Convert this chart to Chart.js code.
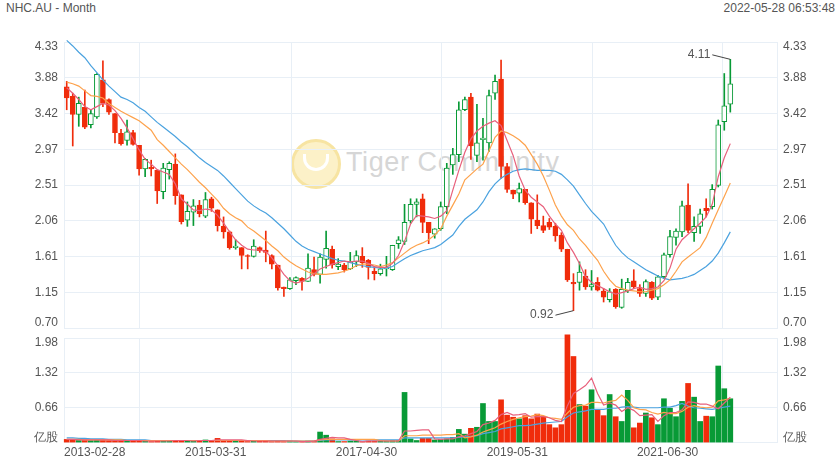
<!DOCTYPE html>
<html>
<head>
<meta charset="utf-8">
<script src="https://cdn.jsdelivr.net/npm/chart.js@4.4.1/dist/chart.umd.min.js"></script>
<style>
  body { margin: 0; background: #fff; width: 840px; height: 470px; position: relative; overflow: hidden;
         font-family: "Liberation Sans", Arial, sans-serif; }
  #title { position: absolute; left: 6px; top: 1px; font-size: 12px; color: #555; }
  #stamp { position: absolute; right: 5px; top: 1px; font-size: 12px; color: #555; }
  #logo { position: absolute; left: 291px; top: 139px; width: 44px; height: 44px; border-radius: 50%;
          background: #fcf1c8; border: 3px solid #f7e4a2; }
  #logo div { position: absolute; left: 9px; top: 12px; width: 20px; height: 14px;
              border: 3px solid #fff; border-top: none; border-radius: 0 0 14px 14px; }
  #mark { position: absolute; left: 346px; top: 147px; font-size: 27px; color: #d6d6d6; letter-spacing: 0.6px; }
  canvas { position: absolute; left: 0; }
  #price { top: 0; }
  #vol { top: 320px; }
</style>
</head>
<body>
<div id="title">NHC.AU - Month</div>
<div id="stamp">2022-05-28 06:53:48</div>
<div id="logo"><div></div></div>
<div id="mark">Tiger Community</div>
<canvas id="price" width="840" height="350"></canvas>
<canvas id="vol" width="840" height="150"></canvas>
<script>
// monthly candles, index 0 = first month on the chart
const opens = [3.76,3.64,3.41,3.50,3.28,3.38,3.85,3.60,3.42,3.17,
  3.08,3.18,3.02,2.72,2.74,2.70,2.43,2.71,2.78,2.39,
  2.07,2.17,2.26,2.12,2.34,2.20,1.99,1.92,1.72,1.72,
  1.62,1.61,1.72,1.69,1.62,1.50,1.22,1.20,1.30,1.33,
  1.29,1.44,1.38,1.57,1.70,1.48,1.50,1.45,1.54,1.61,
  1.56,1.42,1.39,1.45,1.44,1.77,1.80,2.06,2.27,2.34,
  2.04,1.89,1.96,2.24,2.77,2.90,3.47,3.63,2.89,3.09,
  3.05,3.68,3.86,2.75,2.45,2.41,2.46,2.29,2.07,2.00,
  2.04,1.99,1.88,1.70,1.28,1.28,1.36,1.22,1.28,1.17,
  1.06,1.19,0.96,1.17,1.30,1.20,1.14,1.28,1.09,1.35,
  1.63,1.85,1.92,2.26,1.91,1.99,2.22,2.24,2.51,3.32,
  3.54];
const highs = [3.83,3.68,3.63,3.72,3.47,3.93,4.09,3.61,3.42,3.22,
  3.34,3.21,3.02,2.85,2.83,2.70,2.79,2.81,2.91,2.39,
  2.30,2.33,2.32,2.42,2.36,2.20,2.11,1.93,1.82,1.72,
  1.63,1.82,1.73,1.93,1.63,1.50,1.22,1.34,1.35,1.34,
  1.64,1.60,1.64,1.93,1.74,1.58,1.52,1.66,1.68,1.72,
  1.57,1.48,1.51,1.61,1.75,1.86,2.27,2.34,2.34,2.40,
  2.04,1.96,2.30,2.79,2.98,3.57,3.63,3.68,3.54,3.36,
  3.72,3.91,4.10,2.79,2.45,2.54,2.46,2.29,2.39,2.12,
  2.09,2.03,1.91,1.70,1.39,1.54,1.44,1.43,1.34,1.20,
  1.20,1.20,1.32,1.33,1.44,1.25,1.31,1.29,1.37,1.65,
  1.94,1.96,2.31,2.53,2.11,2.21,2.34,2.52,3.34,3.93,
  4.11];
const lows = [3.47,3.01,3.26,3.23,3.24,3.36,3.51,3.41,3.05,3.02,
  3.02,3.02,2.64,2.62,2.63,2.28,2.34,2.59,2.27,2.02,
  1.99,2.00,2.11,2.10,2.18,1.93,1.84,1.70,1.70,1.45,
  1.45,1.60,1.66,1.54,1.45,1.18,1.10,1.19,1.25,1.18,
  1.29,1.36,1.27,1.46,1.46,1.44,1.41,1.44,1.48,1.47,
  1.32,1.31,1.37,1.36,1.43,1.71,1.76,2.03,2.11,1.91,
  1.77,1.84,1.94,2.15,2.65,2.81,3.46,2.84,2.81,2.83,
  2.94,3.60,2.60,2.42,2.34,2.30,2.27,1.90,1.96,1.91,
  1.95,1.80,1.67,1.29,0.92,1.18,1.19,1.18,1.17,1.03,
  1.03,0.95,0.95,1.15,1.20,1.10,1.10,1.06,1.06,1.33,
  1.60,1.75,1.86,1.91,1.80,1.90,2.11,2.21,2.49,3.21,
  3.44];
const closes = [3.62,3.41,3.55,3.25,3.42,3.92,3.55,3.44,3.18,3.04,
  3.19,3.03,2.72,2.84,2.72,2.44,2.73,2.79,2.38,2.05,
  2.18,2.25,2.15,2.33,2.22,2.00,1.92,1.72,1.74,1.62,
  1.61,1.74,1.68,1.66,1.51,1.21,1.20,1.31,1.34,1.29,
  1.46,1.38,1.60,1.71,1.50,1.51,1.44,1.54,1.62,1.53,
  1.47,1.39,1.45,1.47,1.75,1.82,2.04,2.27,2.30,2.04,
  1.91,1.96,2.24,2.73,2.90,3.47,3.60,3.01,3.05,3.11,
  3.65,3.83,2.75,2.46,2.40,2.47,2.29,2.08,2.00,1.94,
  1.98,1.87,1.70,1.31,1.26,1.41,1.22,1.25,1.18,1.09,
  1.16,0.97,1.19,1.28,1.22,1.14,1.29,1.08,1.35,1.63,
  1.86,1.93,2.25,1.94,1.99,2.15,2.19,2.46,3.28,3.52,
  3.80];

// price moving averages
const ma5 = [3.75,3.68,3.60,3.51,3.47,3.51,3.55,3.53,3.46,3.36,
  3.24,3.10,2.96,2.84,2.78,2.71,2.68,2.65,2.53,2.34,
  2.27,2.20,2.19,2.21,2.20,2.13,2.03,1.92,1.82,1.75,
  1.70,1.69,1.69,1.67,1.59,1.49,1.38,1.30,1.27,1.29,
  1.33,1.39,1.45,1.48,1.51,1.53,1.55,1.54,1.55,1.55,
  1.52,1.48,1.47,1.47,1.52,1.62,1.80,2.02,2.13,2.12,
  2.11,2.09,2.12,2.19,2.45,2.70,2.93,3.10,3.20,3.26,
  3.30,3.33,3.27,3.08,2.89,2.63,2.45,2.36,2.30,2.24,
  2.12,2.02,1.94,1.78,1.66,1.52,1.35,1.28,1.24,1.20,
  1.16,1.13,1.15,1.17,1.20,1.22,1.19,1.20,1.22,1.30,
  1.46,1.70,1.82,1.89,1.96,2.03,2.11,2.27,2.62,2.86,
  3.04];
const ma10 = [3.82,3.80,3.77,3.71,3.65,3.64,3.62,3.55,3.50,3.45,
  3.41,3.37,3.33,3.27,3.21,3.09,3.02,2.94,2.86,2.78,
  2.71,2.63,2.55,2.48,2.40,2.32,2.22,2.15,2.10,2.06,
  1.98,1.93,1.87,1.81,1.74,1.68,1.60,1.54,1.49,1.45,
  1.41,1.39,1.38,1.38,1.39,1.40,1.42,1.45,1.49,1.51,
  1.51,1.50,1.48,1.50,1.53,1.59,1.65,1.71,1.75,1.78,
  1.82,1.88,1.96,2.12,2.26,2.40,2.58,2.65,2.72,2.78,
  2.95,3.12,3.20,3.18,3.14,3.09,3.02,2.90,2.78,2.63,
  2.45,2.26,2.12,2.01,1.94,1.83,1.75,1.65,1.56,1.42,
  1.31,1.23,1.20,1.18,1.17,1.16,1.16,1.18,1.20,1.25,
  1.31,1.42,1.54,1.60,1.66,1.72,1.85,2.03,2.20,2.37,
  2.54];
const ma20 = [4.35,4.28,4.20,4.13,4.03,3.94,3.85,3.77,3.70,3.63,
  3.60,3.56,3.50,3.45,3.38,3.31,3.25,3.19,3.13,3.06,
  3.00,2.93,2.86,2.80,2.75,2.70,2.63,2.55,2.47,2.39,
  2.31,2.25,2.20,2.16,2.10,2.03,1.96,1.88,1.80,1.74,
  1.70,1.67,1.64,1.61,1.58,1.56,1.55,1.53,1.51,1.49,
  1.48,1.47,1.46,1.46,1.48,1.53,1.58,1.62,1.65,1.68,
  1.70,1.72,1.76,1.82,1.88,1.99,2.08,2.14,2.20,2.30,
  2.43,2.53,2.60,2.65,2.69,2.71,2.72,2.71,2.70,2.70,
  2.70,2.69,2.65,2.58,2.50,2.39,2.28,2.18,2.10,2.02,
  1.88,1.75,1.66,1.59,1.54,1.49,1.44,1.40,1.36,1.33,
  1.31,1.32,1.33,1.35,1.38,1.43,1.48,1.55,1.65,1.78,
  1.92];

// volume, in 亿股 (100 million shares)
const volumes = [0.06,0.05,0.04,0.05,0.04,0.05,0.05,0.04,0.04,0.03,
  0.04,0.03,0.04,0.03,0.02,0.04,0.04,0.03,0.04,0.04,
  0.03,0.03,0.03,0.05,0.04,0.08,0.04,0.04,0.03,0.04,
  0.02,0.03,0.03,0.03,0.02,0.04,0.02,0.03,0.02,0.02,
  0.03,0.03,0.20,0.14,0.07,0.02,0.02,0.03,0.03,0.02,
  0.03,0.03,0.03,0.03,0.04,0.04,0.95,0.07,0.04,0.08,
  0.08,0.05,0.06,0.07,0.10,0.25,0.16,0.27,0.29,0.74,
  0.40,0.40,0.81,0.52,0.48,0.45,0.51,0.45,0.54,0.49,
  0.34,0.28,0.34,2.04,1.63,0.72,0.69,1.00,0.62,0.51,
  0.91,0.49,0.40,0.99,0.28,0.37,0.56,0.47,0.34,0.83,
  0.65,0.49,0.78,1.12,0.86,0.40,0.50,0.49,1.45,1.02,
  0.83];
const volMa5 = [0.06,0.06,0.05,0.05,0.05,0.05,0.05,0.05,0.04,0.04,
  0.04,0.04,0.04,0.03,0.03,0.03,0.03,0.03,0.04,0.04,
  0.04,0.03,0.04,0.04,0.04,0.05,0.05,0.05,0.05,0.05,
  0.04,0.03,0.03,0.03,0.03,0.03,0.03,0.03,0.03,0.02,
  0.02,0.03,0.06,0.08,0.10,0.09,0.09,0.06,0.04,0.02,
  0.03,0.03,0.03,0.03,0.03,0.03,0.22,0.22,0.23,0.24,
  0.24,0.07,0.06,0.07,0.07,0.11,0.13,0.17,0.21,0.34,
  0.37,0.42,0.53,0.57,0.52,0.53,0.55,0.48,0.49,0.49,
  0.47,0.42,0.40,0.70,0.93,1.00,1.08,1.22,0.93,0.71,
  0.75,0.71,0.59,0.66,0.61,0.51,0.52,0.53,0.40,0.51,
  0.57,0.57,0.62,0.77,0.76,0.73,0.73,0.69,0.64,0.75,
  0.86];
const volMa10 = [0.06,0.06,0.06,0.05,0.05,0.05,0.05,0.05,0.05,0.05,
  0.04,0.04,0.04,0.04,0.04,0.04,0.04,0.04,0.04,0.04,
  0.04,0.04,0.04,0.04,0.04,0.04,0.04,0.04,0.04,0.04,
  0.04,0.04,0.04,0.04,0.03,0.03,0.03,0.03,0.03,0.03,
  0.03,0.03,0.05,0.06,0.06,0.06,0.06,0.06,0.06,0.06,
  0.06,0.06,0.04,0.03,0.03,0.03,0.13,0.13,0.13,0.14,
  0.14,0.14,0.14,0.15,0.15,0.17,0.09,0.11,0.14,0.20,
  0.24,0.28,0.35,0.40,0.44,0.47,0.49,0.50,0.53,0.51,
  0.47,0.46,0.44,0.56,0.67,0.70,0.71,0.76,0.76,0.75,
  0.78,0.80,0.90,0.80,0.66,0.63,0.62,0.57,0.54,0.57,
  0.55,0.55,0.59,0.67,0.70,0.67,0.66,0.67,0.79,0.81,
  0.84];
const volMa20 = [0.09,0.09,0.08,0.08,0.07,0.07,0.07,0.06,0.06,0.06,
  0.05,0.05,0.05,0.05,0.04,0.04,0.04,0.04,0.04,0.04,
  0.04,0.04,0.04,0.04,0.04,0.04,0.04,0.04,0.04,0.04,
  0.04,0.04,0.04,0.04,0.04,0.04,0.04,0.03,0.03,0.03,
  0.03,0.03,0.04,0.05,0.05,0.05,0.05,0.05,0.05,0.05,
  0.05,0.05,0.05,0.05,0.05,0.05,0.09,0.09,0.09,0.09,
  0.09,0.09,0.09,0.09,0.09,0.10,0.11,0.12,0.13,0.17,
  0.19,0.21,0.26,0.28,0.30,0.32,0.32,0.33,0.35,0.37,
  0.38,0.39,0.40,0.49,0.56,0.58,0.60,0.63,0.63,0.63,
  0.65,0.65,0.67,0.68,0.67,0.66,0.66,0.66,0.66,0.67,
  0.67,0.70,0.74,0.69,0.66,0.65,0.64,0.63,0.65,0.67,
  0.69];

// axes
const xTickLabels = ['2013-02-28', '2015-03-31', '2017-04-30', '2019-05-31', '2021-06-30', ''];
const xTickIndex = [-0.45, 24.7, 49.7, 74.7, 99.6, 117.74];
const priceTickLabels = ['0.70', '1.15', '1.61', '2.06', '2.51', '2.97', '3.42', '3.88', '4.33'];
const volTickLabels = ['亿股', '0.66', '1.32', '1.98'];

const P_MIN = 0.70, P_MAX = 4.33, V_MAX = 1.98;
const RED = '#f02c0b', GREEN = '#089a36';
const PINK = '#e8607c', ORANGE = '#fda24c', BLUE = '#4aa2df';
const GRID = '#e8eff6';

Chart.defaults.font.family = '"Liberation Sans", Arial, sans-serif';
Chart.defaults.font.size = 12;
Chart.defaults.color = '#555';

const isUp = i => closes[i] >= opens[i];
const pts = arr => arr.map((v, i) => ({x: i, y: v}));

function setTicks(values) {
  return scale => { scale.ticks = values.map(v => ({value: v})); };
}
// end labels are nudged inward, like the original
function edgeLabels(labels) {
  return (v, i) => i === 0 ? [labels[i], ''] : (i === labels.length - 1 ? ['', labels[i]] : labels[i]);
}

const priceTickVals = priceTickLabels.map((t, k) => P_MIN + k * (P_MAX - P_MIN) / (priceTickLabels.length - 1));
const volTickVals = volTickLabels.map((t, k) => k * V_MAX / (volTickLabels.length - 1));

function xScale(showLabels) {
  return {
    type: 'linear', min: xTickIndex[0], max: xTickIndex[xTickIndex.length - 1], offset: false,
    afterBuildTicks: setTicks(xTickIndex),
    grid: {color: GRID, drawTicks: false},
    border: {display: false},
    ticks: {display: showLabels, autoSkip: false, maxRotation: 0, align: 'inner', padding: 3,
            callback: (v, i) => xTickLabels[i]}
  };
}
function yScale(pos, min, max, vals, labels, grid) {
  return {
    type: 'linear', position: pos, min: min, max: max,
    afterBuildTicks: setTicks(vals),
    afterFit: s => { s.width = pos === 'left' ? 64 : 63; },
    grid: {color: GRID, drawTicks: false, drawOnChartArea: grid},
    border: {color: GRID},
    ticks: {padding: 6, font: {lineHeight: 0.85}, callback: edgeLabels(labels)}
  };
}
function maLine(arr, color, axis) {
  return {type: 'line', data: pts(arr), borderColor: color, borderWidth: 1.2, pointRadius: 0,
          yAxisID: axis, order: 1, clip: false};
}

const extremeLabels = {
  id: 'extremeLabels',
  afterDatasetsDraw(chart) {
    const {ctx, scales} = chart;
    const hi = highs.indexOf(Math.max(...highs));
    const lo = lows.indexOf(Math.min(...lows));
    [[hi, highs[hi], -1], [lo, lows[lo], 1]].forEach(([i, v, dir]) => {
      const px = scales.x.getPixelForValue(i);
      const py = scales.y.getPixelForValue(v);
      const ex = px - 18, ey = py + dir * 4.5;
      ctx.save();
      ctx.strokeStyle = '#444';
      ctx.lineWidth = 1;
      ctx.beginPath();
      ctx.moveTo(px, py);
      ctx.lineTo(ex, ey);
      ctx.stroke();
      ctx.fillStyle = '#555';
      ctx.font = '12px "Liberation Sans", Arial, sans-serif';
      ctx.textAlign = 'right';
      ctx.textBaseline = 'middle';
      ctx.fillText(v.toFixed(2), ex - 2, ey);
      ctx.restore();
    });
  }
};

const common = {
  responsive: false, devicePixelRatio: 1, animation: false, events: [],
  plugins: {legend: {display: false}, tooltip: {enabled: false}}
};

new Chart(document.getElementById('price'), {
  type: 'bar',
  data: {
    datasets: [
      {data: opens.map((o, i) => ({x: i, y: [lows[i], highs[i]]})),
       backgroundColor: opens.map((o, i) => isUp(i) ? GREEN : RED),
       barThickness: 1, grouped: false, order: 3, clip: false},
      {data: opens.map((o, i) => ({x: i, y: [o, closes[i]]})),
       backgroundColor: opens.map((o, i) => isUp(i) ? '#fff' : RED),
       borderColor: opens.map((o, i) => isUp(i) ? GREEN : RED),
       borderWidth: 1, borderSkipped: false,
       barThickness: 5, grouped: false, order: 2, clip: false},
      maLine(ma5, PINK, 'y'),
      maLine(ma10, ORANGE, 'y'),
      maLine(ma20, BLUE, 'y')
    ]
  },
  options: Object.assign({}, common, {
    layout: {padding: {left: 0, right: 0, top: 42, bottom: 22}},
    scales: {
      x: xScale(false),
      y: yScale('left', P_MIN, P_MAX, priceTickVals, priceTickLabels, true),
      y2: yScale('right', P_MIN, P_MAX, priceTickVals, priceTickLabels, false)
    }
  }),
  plugins: [extremeLabels]
});

new Chart(document.getElementById('vol'), {
  type: 'bar',
  data: {
    datasets: [
      {data: pts(volumes),
       backgroundColor: volumes.map((v, i) => isUp(i) ? GREEN : RED),
       barThickness: 5, grouped: false, order: 2, clip: false},
      maLine(volMa5, PINK, 'y'),
      maLine(volMa10, ORANGE, 'y'),
      maLine(volMa20, BLUE, 'y')
    ]
  },
  options: Object.assign({}, common, {
    layout: {padding: {left: 0, right: 0, top: 18, bottom: 7}},
    scales: {
      x: xScale(true),
      y: yScale('left', 0, V_MAX, volTickVals, volTickLabels, true),
      y2: yScale('right', 0, V_MAX, volTickVals, volTickLabels, false)
    }
  })
});
</script>
</body>
</html>
